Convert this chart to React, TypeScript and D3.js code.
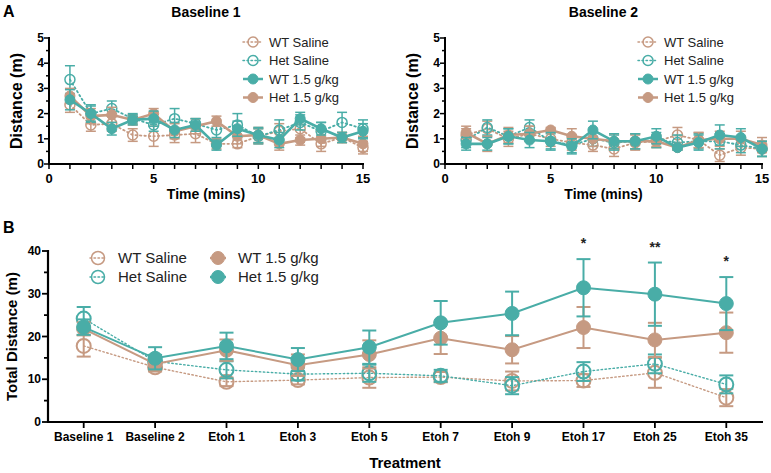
import React from 'react'
import * as d3 from 'd3'

// colours
const TAN = '#C69A82'
const TEAL = '#49ADA7'

// Panel A: distance per minute
const minutes = d3.range(1, 16)

const b1WtSaline = [2.35, 1.55, 1.6, 1.15, 1.1, 1.15, 1.2, 0.8, 0.8, 1.1, 1.3, 1.4, 0.8, 1.05, 0.65]
const b1WtSalineErr = [0.3, 0.25, 0.3, 0.25, 0.4, 0.3, 0.35, 0.2, 0.15, 0.3, 0.3, 0.35, 0.3, 0.2, 0.25]
const b1HetSaline = [3.35, 2.0, 2.2, 1.8, 1.55, 1.8, 1.6, 1.35, 1.55, 1.1, 1.35, 1.65, 1.3, 1.65, 1.4]
const b1HetSalineErr = [0.55, 0.35, 0.3, 0.2, 0.25, 0.4, 0.2, 0.3, 0.45, 0.3, 0.4, 0.3, 0.35, 0.4, 0.35]
const b1WtDrug = [2.55, 2.0, 1.4, 1.75, 1.8, 1.35, 1.55, 0.75, 1.4, 1.15, 0.95, 1.8, 1.4, 1.05, 1.3]
const b1WtDrugErr = [0.4, 0.3, 0.25, 0.2, 0.3, 0.3, 0.25, 0.2, 0.3, 0.3, 0.3, 0.25, 0.25, 0.2, 0.3]
const b1HetDrug = [2.7, 1.9, 1.95, 1.75, 2.0, 1.3, 1.5, 1.7, 1.1, 1.15, 0.8, 0.95, 1.0, 1.05, 0.8]
const b1HetDrugErr = [0.3, 0.3, 0.3, 0.2, 0.2, 0.3, 0.3, 0.2, 0.3, 0.3, 0.25, 0.2, 0.3, 0.2, 0.3]

const b2WtSaline = [1.15, 1.4, 1.0, 1.2, 1.0, 0.85, 0.75, 0.6, 0.85, 0.9, 1.15, 0.95, 0.35, 0.65, 0.6]
const b2WtSalineErr = [0.25, 0.3, 0.3, 0.3, 0.3, 0.3, 0.25, 0.3, 0.3, 0.25, 0.3, 0.3, 0.25, 0.3, 0.3]
const b2HetSaline = [0.95, 1.45, 1.1, 1.45, 0.9, 0.75, 1.0, 0.85, 0.9, 0.95, 0.85, 0.9, 0.9, 0.75, 0.6]
const b2HetSalineErr = [0.3, 0.3, 0.3, 0.3, 0.3, 0.3, 0.3, 0.3, 0.3, 0.3, 0.3, 0.3, 0.3, 0.3, 0.3]
const b2WtDrug = [0.8, 0.8, 1.1, 0.95, 0.9, 0.7, 1.35, 0.9, 0.9, 1.1, 0.65, 0.85, 1.15, 1.05, 0.6]
const b2WtDrugErr = [0.25, 0.25, 0.3, 0.3, 0.35, 0.3, 0.35, 0.3, 0.3, 0.3, 0.1, 0.3, 0.4, 0.35, 0.3]
const b2HetDrug = [1.25, 0.8, 1.15, 1.2, 1.35, 1.1, 1.0, 0.9, 0.9, 0.9, 0.65, 0.95, 1.0, 1.0, 0.75]
const b2HetDrugErr = [0.25, 0.3, 0.3, 0.3, 0.1, 0.3, 0.3, 0.3, 0.3, 0.2, 0.1, 0.3, 0.3, 0.3, 0.3]

// Panel B: total distance per treatment
const treatments = ['Baseline 1', 'Baseline 2', 'Etoh 1', 'Etoh 3', 'Etoh 5', 'Etoh 7', 'Etoh 9', 'Etoh 17', 'Etoh 25', 'Etoh 35']
const totWtSaline = [17.8, 12.8, 9.4, 9.8, 10.4, 10.5, 9.6, 9.7, 11.5, 5.7]
const totWtSalineErr = [2.5, 1.0, 1.0, 1.0, 2.4, 1.2, 2.2, 1.5, 3.5, 2.0]
const totHetSaline = [24.2, 14.2, 12.2, 11.2, 11.4, 10.8, 8.5, 11.8, 13.6, 8.8]
const totHetSalineErr = [2.7, 1.5, 2.0, 1.5, 2.0, 1.4, 2.0, 2.2, 2.2, 2.1]
const totWtDrug = [21.8, 13.6, 16.8, 13.3, 15.8, 19.6, 16.9, 22.1, 19.2, 20.9]
const totWtDrugErr = [1.5, 1.5, 2.5, 2.5, 3.3, 3.7, 3.2, 4.8, 4.0, 4.7]
const totHetDrug = [22.2, 14.9, 17.8, 14.6, 17.5, 23.2, 25.4, 31.4, 29.9, 27.7]
const totHetDrugErr = [1.8, 2.6, 3.1, 2.7, 3.9, 5.1, 5.1, 6.7, 7.4, 6.2]

const stars = [
  {at: 'Etoh 17', label: '*'},
  {at: 'Etoh 25', label: '**'},
  {at: 'Etoh 35', label: '*'},
]

const legendA = [
  {name: 'WT Saline', color: TAN, open: true},
  {name: 'Het Saline', color: TEAL, open: true},
  {name: 'WT 1.5 g/kg', color: TEAL, open: false},
  {name: 'Het 1.5 g/kg', color: TAN, open: false},
]
const legendB = [
  {name: 'WT Saline', color: TAN, open: true},
  {name: 'Het Saline', color: TEAL, open: true},
  {name: 'WT 1.5 g/kg', color: TAN, open: false},
  {name: 'Het 1.5 g/kg', color: TEAL, open: false},
]

const FONT = 'Liberation Sans, Arial, Helvetica, sans-serif'

type Series = {values: number[], err: number[], color: string, open: boolean}

const Marker = ({x, y, r, color, open, sw}) => (
  <circle cx={x} cy={y} r={r}
    fill={open ? 'none' : color}
    stroke={color} strokeWidth={open ? sw : 1} />
)

const SeriesLayer = ({series, xs, y, r, cap, lw, ew, dash}) => {
  const line = d3.line<number>().x((d, i) => xs[i]).y(d => y(d))
  return (
    <g>
      {series.map((s, k) => (
        <g key={k}>
          <path d={line(s.values) || ''} fill="none" stroke={s.color}
            strokeWidth={s.open ? lw * 0.7 : lw}
            strokeDasharray={s.open ? dash : null}
            strokeLinecap={s.open ? 'round' : 'butt'} />
          {s.values.map((v, i) => {
            const top = y(v + s.err[i]), bot = y(v - s.err[i])
            return (
              <g key={i} stroke={s.color} strokeWidth={ew}>
                <line x1={xs[i]} x2={xs[i]} y1={top} y2={bot} />
                <line x1={xs[i] - cap} x2={xs[i] + cap} y1={top} y2={top} />
                <line x1={xs[i] - cap} x2={xs[i] + cap} y1={bot} y2={bot} />
              </g>
            )
          })}
          {s.values.map((v, i) => (
            <Marker key={'m' + i} x={xs[i]} y={y(v)} r={r} color={s.color} open={s.open} sw={ew} />
          ))}
        </g>
      ))}
    </g>
  )
}

const LegendItem = ({x, y, item, r, fs, half, tx}) => (
  <g>
    <line x1={x - half} x2={x + half} y1={y} y2={y} stroke={item.color}
      strokeWidth={item.open ? 1.5 : 2.5}
      strokeDasharray={item.open ? '1.5,2.5' : null} strokeLinecap={item.open ? 'round' : 'butt'} />
    <Marker x={x} y={y} r={r} color={item.color} open={item.open} sw={1.5} />
    <text x={x + tx} y={y + fs * 0.36} fontSize={fs} fontFamily={FONT} fill="#222">{item.name}</text>
  </g>
)

const PanelA = ({title, x0, x1, data, legendX}) => {
  const x = d3.scaleLinear().domain([0, 15]).range([x0, x1])
  const y = d3.scaleLinear().domain([0, 5]).range([164, 38])
  const xs = minutes.map(m => x(m))
  const cx = (x0 + x1) / 2
  return (
    <g>
      <text x={cx} y={17} textAnchor="middle" fontSize={14} fontWeight="bold" fontFamily={FONT}>{title}</text>
      <SeriesLayer series={data} xs={xs} y={y} r={5} cap={5} lw={2.6} ew={1.5} dash="1.5,3" />
      {/* y axis */}
      <line x1={x0} x2={x0} y1={y(5) - 1} y2={y(0) + 1} stroke="#000" strokeWidth={2} />
      {d3.range(0, 5.01, 0.5).map(t => (
        <line key={t} x1={x0 - (t % 1 === 0 ? 5 : 3)} x2={x0} y1={y(t)} y2={y(t)} stroke="#000" strokeWidth={1.5} />
      ))}
      {d3.range(0, 6).map(t => (
        <text key={t} x={x0 - 5} y={y(t) + 4} textAnchor="end" fontSize={12} fontWeight="bold" fontFamily={FONT}>{t}</text>
      ))}
      {/* x axis */}
      <line x1={x0 - 1} x2={x1 + 1} y1={y(0)} y2={y(0)} stroke="#000" strokeWidth={2} />
      {d3.range(0, 16).map(t => (
        <line key={t} x1={x(t)} x2={x(t)} y1={y(0)} y2={y(0) + 5} stroke="#000" strokeWidth={1.5} />
      ))}
      {[0, 5, 10, 15].map(t => (
        <text key={t} x={x(t)} y={y(0) + 19} textAnchor="middle" fontSize={13} fontWeight="bold" fontFamily={FONT}>{t}</text>
      ))}
      <text x={cx} y={199} textAnchor="middle" fontSize={14} fontWeight="bold" fontFamily={FONT}>Time (mins)</text>
      <text transform={`translate(${x0 - 27},${y(2.5)}) rotate(-90)`} textAnchor="middle" fontSize={16} fontWeight="bold" fontFamily={FONT}>Distance (m)</text>
      {legendA.map((item, i) => (
        <LegendItem key={i} x={legendX} y={42 + i * 18.5} item={item} r={5} fs={13} half={10} tx={16} />
      ))}
    </g>
  )
}

const PanelB = () => {
  const x = d3.scalePoint<string>().domain(treatments).range([48, 762]).padding(0.5)
  const y = d3.scaleLinear().domain([0, 40]).range([422, 251])
  const xs = treatments.map(t => x(t) as number)
  const data: Series[] = [
    {values: totWtSaline, err: totWtSalineErr, color: TAN, open: true},
    {values: totHetSaline, err: totHetSalineErr, color: TEAL, open: true},
    {values: totWtDrug, err: totWtDrugErr, color: TAN, open: false},
    {values: totHetDrug, err: totHetDrugErr, color: TEAL, open: false},
  ]
  return (
    <g>
      <SeriesLayer series={data} xs={xs} y={y} r={7} cap={7} lw={2} ew={2} dash="1.5,2.5" />
      {stars.map((s, i) => {
        const k = treatments.indexOf(s.at)
        return (
          <text key={i} x={x(s.at)} y={y(totHetDrug[k] + totHetDrugErr[k]) - 11} textAnchor="middle" fontSize={14} fontWeight="bold" fontFamily={FONT} fill="#222">{s.label}</text>
        )
      })}
      <line x1={48} x2={48} y1={y(40) - 1} y2={y(0) + 1} stroke="#000" strokeWidth={2.2} />
      {d3.range(0, 41, 5).map(t => (
        <line key={t} x1={48 - (t % 10 === 0 ? 6 : 4)} x2={48} y1={y(t)} y2={y(t)} stroke="#000" strokeWidth={1.8} />
      ))}
      {d3.range(0, 41, 10).map(t => (
        <text key={t} x={41} y={y(t) + 4} textAnchor="end" fontSize={12} fontWeight="bold" fontFamily={FONT}>{t}</text>
      ))}
      <line x1={47} x2={763} y1={y(0)} y2={y(0)} stroke="#000" strokeWidth={2.2} />
      {treatments.map(t => (
        <g key={t}>
          <line x1={x(t)} x2={x(t)} y1={y(0)} y2={y(0) + 6} stroke="#000" strokeWidth={1.8} />
          <text x={x(t)} y={441} textAnchor="middle" fontSize={12} fontWeight="bold" fontFamily={FONT}>{t}</text>
        </g>
      ))}
      <text x={405} y={468} textAnchor="middle" fontSize={15} fontWeight="bold" fontFamily={FONT}>Treatment</text>
      <text transform={`translate(17,${y(20)}) rotate(-90)`} textAnchor="middle" fontSize={15} fontWeight="bold" fontFamily={FONT}>Total Distance (m)</text>
      {legendB.map((item, i) => (
        <LegendItem key={i} x={i < 2 ? 98 : 218} y={258 + (i % 2) * 19} item={item} r={6.5} fs={15} half={8} tx={20} />
      ))}
    </g>
  )
}

export default function App() {
  const left: Series[] = [
    {values: b1WtSaline, err: b1WtSalineErr, color: TAN, open: true},
    {values: b1HetSaline, err: b1HetSalineErr, color: TEAL, open: true},
    {values: b1HetDrug, err: b1HetDrugErr, color: TAN, open: false},
    {values: b1WtDrug, err: b1WtDrugErr, color: TEAL, open: false},
  ]
  const right: Series[] = [
    {values: b2WtSaline, err: b2WtSalineErr, color: TAN, open: true},
    {values: b2HetSaline, err: b2HetSalineErr, color: TEAL, open: true},
    {values: b2HetDrug, err: b2HetDrugErr, color: TAN, open: false},
    {values: b2WtDrug, err: b2WtDrugErr, color: TEAL, open: false},
  ]
  return (
    <svg width={771} height={473} style={{position: 'absolute', left: 0, top: 0, background: '#fff'}}>
      <text x={3} y={17} fontSize={16} fontWeight="bold" fontFamily={FONT}>A</text>
      <text x={3} y={233} fontSize={16} fontWeight="bold" fontFamily={FONT}>B</text>
      <PanelA title="Baseline 1" x0={49} x1={363} data={left} legendX={253} />
      <PanelA title="Baseline 2" x0={445} x1={762} data={right} legendX={648} />
      <PanelB />
    </svg>
  )
}
